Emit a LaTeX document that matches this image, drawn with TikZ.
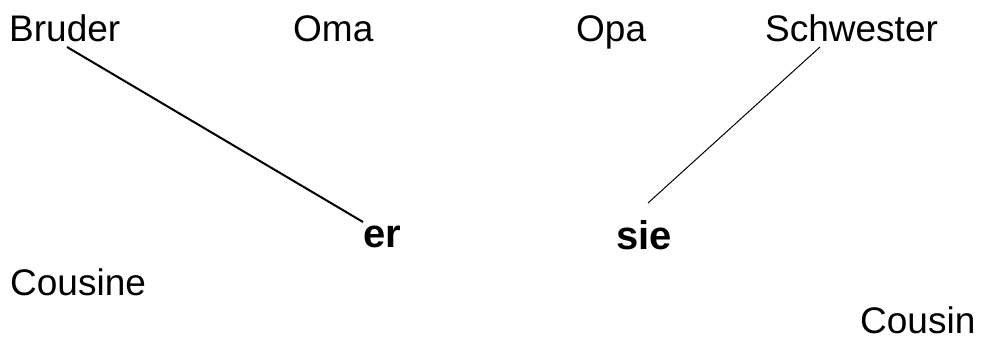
\documentclass[tikz,border=0pt]{standalone}
\usepackage{fontspec}
\setmainfont{Liberation Sans}
\usetikzlibrary{positioning}

\begin{document}
\begin{tikzpicture}[x=1pt,y=1pt]
\tikzstyle{word}=[anchor=base west, inner sep=0pt, font=\fontsize{37}{40}\selectfont]
\tikzstyle{pron}=[anchor=base west, inner sep=0pt, font=\fontsize{40}{44}\selectfont\bfseries]
\tikzstyle{thickline}=[line width=2pt]
\tikzstyle{thinline}=[line width=1pt]
  \useasboundingbox (0,0) rectangle (982,340);
  % top row
  \node[word] (bruder) at (9,298) {Bruder};
  \node[word] (oma) at (293,298) {Oma};
  \node[word] (opa) at (576,298) {Opa};
  \node[word] (schwester) at (765,298) {Schwester};
  % middle
  \node[pron] (er) at (363,92) {er};
  \node[pron] (sie) at (616,90) {sie};
  % bottom
  \node[word] (cousine) at (10,45) {Cousine};
  \node[word] (cousin) at (860,7) {Cousin};
  % line ends
  \coordinate (b1) at (67,293);
  \coordinate (e1) at (363,118);
  \coordinate (s1) at (820,293);
  \coordinate (e2) at (648,137);
  \path (b1) edge[thickline] (e1)
        (s1) edge[thinline] (e2)
        ;
\end{tikzpicture}
\end{document}
